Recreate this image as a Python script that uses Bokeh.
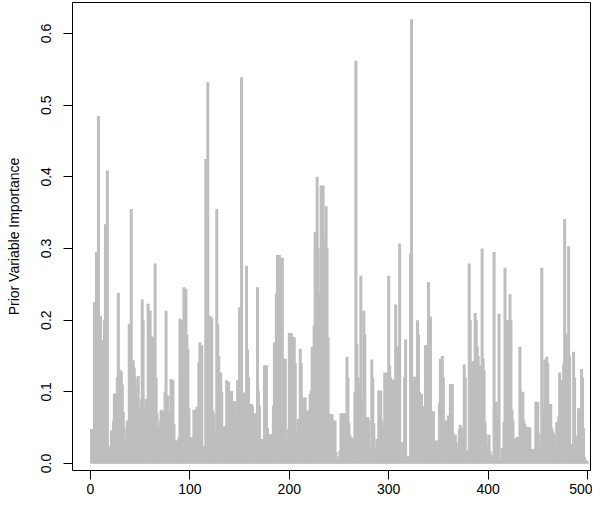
from bokeh.plotting import figure
from bokeh.models import Range1d, FixedTicker, PrintfTickFormatter, ColumnDataSource
from bokeh.embed import file_html
from bokeh.resources import INLINE

importance = [
    0.048, 0.046, 0.044, 0.225, 0.110, 0.295, 0.190, 0.485, 0.140, 0.206,
    0.172, 0.065, 0.093, 0.200, 0.334, 0.110, 0.409, 0.018, 0.016, 0.024,
    0.046, 0.045, 0.060, 0.097, 0.098, 0.096, 0.120, 0.238, 0.090, 0.130,
    0.128, 0.110, 0.072, 0.050, 0.031, 0.030, 0.060, 0.058, 0.195, 0.140,
    0.355, 0.100, 0.144, 0.134, 0.120, 0.104, 0.080, 0.122, 0.060, 0.078,
    0.090, 0.229, 0.200, 0.080, 0.060, 0.090, 0.070, 0.223, 0.150, 0.213,
    0.178, 0.120, 0.176, 0.090, 0.279, 0.120, 0.070, 0.050, 0.040, 0.060,
    0.075, 0.050, 0.074, 0.060, 0.100, 0.213, 0.080, 0.095, 0.050, 0.070,
    0.118, 0.090, 0.116, 0.055, 0.033, 0.020, 0.032, 0.008, 0.036, 0.202,
    0.150, 0.200, 0.120, 0.246, 0.180, 0.244, 0.180, 0.160, 0.077, 0.035,
    0.034, 0.037, 0.036, 0.075, 0.070, 0.075, 0.079, 0.060, 0.141, 0.169,
    0.150, 0.165, 0.010, 0.024, 0.022, 0.425, 0.200, 0.532, 0.150, 0.206,
    0.180, 0.204, 0.075, 0.070, 0.044, 0.030, 0.355, 0.195, 0.150, 0.060,
    0.127, 0.100, 0.010, 0.052, 0.050, 0.052, 0.116, 0.100, 0.114, 0.101,
    0.090, 0.101, 0.087, 0.080, 0.087, 0.071, 0.060, 0.116, 0.110, 0.218,
    0.116, 0.539, 0.087, 0.070, 0.099, 0.090, 0.276, 0.159, 0.120, 0.083,
    0.070, 0.083, 0.080, 0.053, 0.050, 0.070, 0.060, 0.246, 0.101, 0.080,
    0.034, 0.030, 0.034, 0.018, 0.137, 0.120, 0.137, 0.050, 0.010, 0.041,
    0.030, 0.041, 0.010, 0.081, 0.169, 0.150, 0.237, 0.291, 0.250, 0.291,
    0.287, 0.200, 0.287, 0.146, 0.120, 0.146, 0.006, 0.027, 0.048, 0.182,
    0.150, 0.182, 0.177, 0.150, 0.176, 0.140, 0.046, 0.040, 0.062, 0.060,
    0.160, 0.140, 0.018, 0.092, 0.080, 0.092, 0.060, 0.074, 0.070, 0.074,
    0.097, 0.102, 0.163, 0.150, 0.193, 0.323, 0.250, 0.400, 0.300, 0.239,
    0.097, 0.388, 0.300, 0.388, 0.314, 0.250, 0.359, 0.300, 0.176, 0.038,
    0.069, 0.060, 0.069, 0.060, 0.055, 0.060, 0.016, 0.006, 0.006, 0.010,
    0.018, 0.070, 0.060, 0.070, 0.065, 0.070, 0.016, 0.149, 0.120, 0.056,
    0.040, 0.006, 0.036, 0.030, 0.036, 0.100, 0.562, 0.167, 0.120, 0.112,
    0.090, 0.262, 0.092, 0.080, 0.213, 0.180, 0.065, 0.060, 0.065, 0.060,
    0.023, 0.020, 0.145, 0.120, 0.056, 0.023, 0.020, 0.034, 0.030, 0.102,
    0.090, 0.102, 0.060, 0.050, 0.036, 0.127, 0.110, 0.127, 0.120, 0.262,
    0.137, 0.120, 0.117, 0.110, 0.117, 0.100, 0.222, 0.164, 0.150, 0.164,
    0.307, 0.010, 0.008, 0.030, 0.028, 0.120, 0.173, 0.010, 0.008, 0.010,
    0.010, 0.293, 0.620, 0.121, 0.100, 0.121, 0.110, 0.121, 0.200, 0.180,
    0.100, 0.090, 0.097, 0.080, 0.020, 0.020, 0.165, 0.140, 0.165, 0.253,
    0.180, 0.205, 0.073, 0.060, 0.073, 0.032, 0.020, 0.032, 0.007, 0.005,
    0.084, 0.146, 0.120, 0.150, 0.120, 0.048, 0.060, 0.050, 0.060, 0.067,
    0.060, 0.111, 0.100, 0.111, 0.043, 0.013, 0.040, 0.030, 0.018, 0.018,
    0.047, 0.054, 0.050, 0.040, 0.040, 0.138, 0.120, 0.018, 0.010, 0.018,
    0.279, 0.200, 0.140, 0.130, 0.143, 0.120, 0.210, 0.200, 0.164, 0.150,
    0.137, 0.120, 0.137, 0.300, 0.146, 0.130, 0.058, 0.041, 0.025, 0.021,
    0.040, 0.017, 0.010, 0.012, 0.010, 0.295, 0.080, 0.086, 0.060, 0.067,
    0.209, 0.004, 0.004, 0.022, 0.020, 0.058, 0.273, 0.200, 0.180, 0.200,
    0.150, 0.236, 0.200, 0.075, 0.060, 0.030, 0.034, 0.030, 0.037, 0.030,
    0.037, 0.163, 0.100, 0.090, 0.100, 0.060, 0.055, 0.051, 0.045, 0.051,
    0.051, 0.050, 0.007, 0.020, 0.015, 0.020, 0.021, 0.086, 0.042, 0.086,
    0.042, 0.025, 0.020, 0.273, 0.076, 0.060, 0.145, 0.120, 0.149, 0.140,
    0.083, 0.070, 0.083, 0.050, 0.045, 0.042, 0.027, 0.007, 0.058, 0.050,
    0.066, 0.127, 0.110, 0.116, 0.100, 0.139, 0.341, 0.181, 0.150, 0.137,
    0.303, 0.150, 0.027, 0.020, 0.027, 0.156, 0.120, 0.027, 0.016, 0.039,
    0.077, 0.060, 0.077, 0.132, 0.120, 0.050, 0.009, 0.004, 0.004, 0.002,
]
variable_index = list(range(1, len(importance) + 1))

x_ticks = [0, 100, 200, 300, 400, 500]
y_ticks = [0.0, 0.1, 0.2, 0.3, 0.4, 0.5, 0.6]
y_title = "Prior Variable Importance"

source = ColumnDataSource(data=dict(x=variable_index, top=importance))

p = figure(width=592, height=498, output_backend="svg", toolbar_location=None,
           x_range=Range1d(-18.1, 503.0), y_range=Range1d(-0.0098, 0.6433),
           min_border_left=72, min_border_right=2, min_border_top=2,
           min_border_bottom=28)
p.segment(x0="x", y0=0, x1="x", y1="top", source=source,
          line_color="#BEBEBE", line_width=3, line_cap="butt")

p.background_fill_color = "white"
p.border_fill_color = "white"
p.outline_line_color = "black"
p.outline_line_width = 1
p.xgrid.visible = False
p.ygrid.visible = False

p.xaxis.ticker = FixedTicker(ticks=x_ticks)
p.yaxis.ticker = FixedTicker(ticks=y_ticks)
p.yaxis.formatter = PrintfTickFormatter(format="%.1f")

for ax in (p.xaxis[0], p.yaxis[0]):
    ax.axis_line_color = None
    ax.major_tick_line_color = "black"
    ax.major_tick_in = 0
    ax.major_tick_out = 9
    ax.minor_tick_line_color = None
    ax.major_label_text_font = "Liberation Sans"
    ax.major_label_text_font_size = "14px"
    ax.major_label_text_color = "black"

p.xaxis.major_label_standoff = 4
p.yaxis.major_label_standoff = 12
p.yaxis.major_label_orientation = "vertical"
p.yaxis.axis_label = y_title
p.yaxis.axis_label_text_font = "Liberation Sans"
p.yaxis.axis_label_text_font_size = "14px"
p.yaxis.axis_label_text_font_style = "normal"
p.yaxis.axis_label_text_color = "black"
p.yaxis.axis_label_standoff = 17

open("out.html", "w").write(file_html(p, INLINE))
